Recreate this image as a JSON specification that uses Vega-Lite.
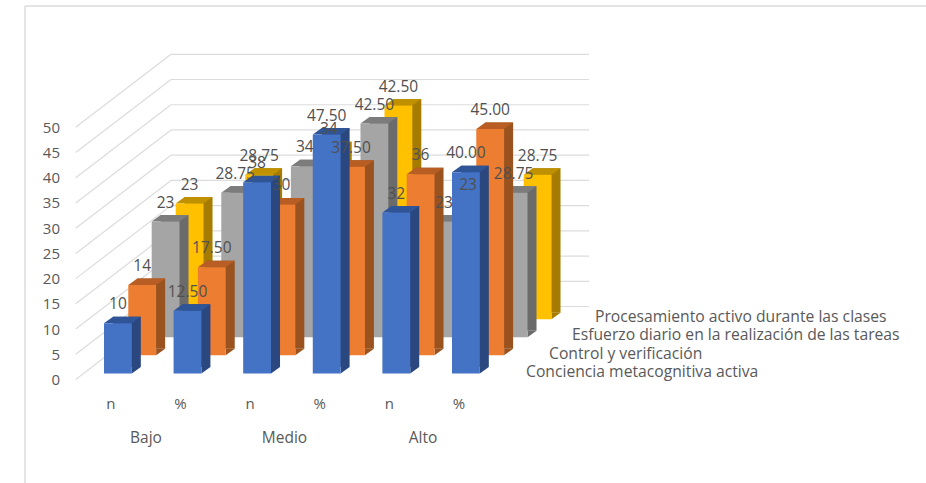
{"$schema":"https://vega.github.io/schema/vega-lite/v6.json","width":926,"height":483,"padding":0,"autosize":{"type":"none"},"background":"white","config":{"view":{"stroke":null},"font":"Open Sans","text":{"font":"Open Sans"}},
"datasets":{
"bars":[
{"serie":"Conciencia metacognitiva activa","cat":"Bajo n","value":10,"label":"10"},{"serie":"Conciencia metacognitiva activa","cat":"Bajo %","value":12.5,"label":"12.50"},{"serie":"Conciencia metacognitiva activa","cat":"Medio n","value":38,"label":"38"},{"serie":"Conciencia metacognitiva activa","cat":"Medio %","value":47.5,"label":"47.50"},{"serie":"Conciencia metacognitiva activa","cat":"Alto n","value":32,"label":"32"},{"serie":"Conciencia metacognitiva activa","cat":"Alto %","value":40,"label":"40.00"},
{"serie":"Control y verificación","cat":"Bajo n","value":14,"label":"14"},{"serie":"Control y verificación","cat":"Bajo %","value":17.5,"label":"17.50"},{"serie":"Control y verificación","cat":"Medio n","value":30,"label":"30"},{"serie":"Control y verificación","cat":"Medio %","value":37.5,"label":"37.50"},{"serie":"Control y verificación","cat":"Alto n","value":36,"label":"36"},{"serie":"Control y verificación","cat":"Alto %","value":45,"label":"45.00"},
{"serie":"Esfuerzo diario en la realización de las tareas","cat":"Bajo n","value":23,"label":"23"},{"serie":"Esfuerzo diario en la realización de las tareas","cat":"Bajo %","value":28.75,"label":"28.75"},{"serie":"Esfuerzo diario en la realización de las tareas","cat":"Medio n","value":34,"label":"34"},{"serie":"Esfuerzo diario en la realización de las tareas","cat":"Medio %","value":42.5,"label":"42.50"},{"serie":"Esfuerzo diario en la realización de las tareas","cat":"Alto n","value":23,"label":"23"},{"serie":"Esfuerzo diario en la realización de las tareas","cat":"Alto %","value":28.75,"label":"28.75"},
{"serie":"Procesamiento activo durante las clases","cat":"Bajo n","value":23,"label":"23"},{"serie":"Procesamiento activo durante las clases","cat":"Bajo %","value":28.75,"label":"28.75"},{"serie":"Procesamiento activo durante las clases","cat":"Medio n","value":34,"label":"34"},{"serie":"Procesamiento activo durante las clases","cat":"Medio %","value":42.5,"label":"42.50"},{"serie":"Procesamiento activo durante las clases","cat":"Alto n","value":23,"label":"23"},{"serie":"Procesamiento activo durante las clases","cat":"Alto %","value":28.75,"label":"28.75"}
],
"levels":[{"level":0},{"level":5},{"level":10},{"level":15},{"level":20},{"level":25},{"level":30},{"level":35},{"level":40},{"level":45},{"level":50}],
"series":[{"serie":"Conciencia metacognitiva activa"},{"serie":"Control y verificación"},{"serie":"Esfuerzo diario en la realización de las tareas"},{"serie":"Procesamiento activo durante las clases"}],
"groups":[{"group":"Bajo"},{"group":"Medio"},{"group":"Alto"}],
"one":[{"frame":1}]
},
"resolve":{"scale":{"x":"independent","y":"independent"},"axis":{"x":"independent","y":"independent"}},
"layer":[
{"data":{"name":"one"},"mark":{"type":"rule","color":"#E4E4E4","strokeWidth":2},"encoding":{"x":{"datum":0,"scale":{"domain":[0,1],"range":[25,926]},"axis":null},"x2":{"datum":1},"y":{"datum":0,"scale":{"domain":[0,1],"range":[6,483]},"axis":null}}},
{"data":{"name":"one"},"mark":{"type":"rule","color":"#E4E4E4","strokeWidth":2},"encoding":{"x":{"datum":0,"scale":{"domain":[0,1],"range":[25,926]},"axis":null},"y":{"datum":0,"scale":{"domain":[0,1],"range":[6,483]},"axis":null},"y2":{"datum":1}}},
{"data":{"name":"levels"},"mark":{"type":"rule","color":"#DCDCDC","strokeWidth":1.2,"y2Offset":-73},"encoding":{"x":{"datum":0,"scale":{"domain":[0,1],"range":[75.7,171]},"axis":null},"x2":{"datum":1},"y":{"field":"level","type":"quantitative","scale":{"domain":[0,50],"range":[379.5,127.3]},"axis":{"orient":"left","offset":-59.5,"values":[0,5,10,15,20,25,30,35,40,45,50],"domain":false,"ticks":false,"grid":false,"title":null,"labelPadding":0,"labelFont":"Open Sans","labelFontSize":15,"labelColor":"#595959"}},"y2":{"field":"level"}}},
{"data":{"name":"levels"},"mark":{"type":"rule","color":"#DCDCDC","strokeWidth":1.2,"yOffset":-73,"y2Offset":-73},"encoding":{"x":{"datum":0,"scale":{"domain":[0,1],"range":[171,589]},"axis":null},"x2":{"datum":1},"y":{"field":"level","type":"quantitative","scale":{"domain":[0,50],"range":[379.5,127.3]},"axis":null},"y2":{"field":"level"}}},

{"data":{"name":"bars"},"transform":[{"filter":"datum.serie==='Procesamiento activo durante las clases'"}],
"encoding":{"x":{"field":"cat","type":"nominal","sort":null,"scale":{"type":"band","domain":["Bajo n","Bajo %","Medio n","Medio %","Alto n","Alto %"],"range":[154.8,572.4],"paddingInner":0.6,"paddingOuter":0.3},"axis":null},"y":{"field":"value","type":"quantitative","scale":{"domain":[0,50],"range":[319.3,67.8]},"axis":null}},
"layer":[
{"mark":{"type":"bar","color":"#A67C00","xOffset":9,"yOffset":-6.5,"y2Offset":-6.5}},
{"mark":{"type":"point","filled":true,"opacity":1,"size":4,"color":"#A67C00","shape":"M13.92,0L22.92,-6.5L13.92,-6.5Z"},"encoding":{"y":{"datum":0}}},
{"mark":{"type":"point","filled":true,"opacity":1,"size":4,"color":"#BF9000","shape":"M-13.92,0L13.92,0L22.92,-6.5L-4.92,-6.5Z"}},
{"mark":{"type":"bar","color":"#FFC000"}}
]},
{"data":{"name":"bars"},"transform":[{"filter":"datum.serie==='Esfuerzo diario en la realización de las tareas'"}],
"encoding":{"x":{"field":"cat","type":"nominal","sort":null,"scale":{"type":"band","domain":["Bajo n","Bajo %","Medio n","Medio %","Alto n","Alto %"],"range":[130.8,548.4],"paddingInner":0.6,"paddingOuter":0.3},"axis":null},"y":{"field":"value","type":"quantitative","scale":{"domain":[0,50],"range":[337.3,85.8]},"axis":null}},
"layer":[
{"mark":{"type":"bar","color":"#6B6B6B","xOffset":9,"yOffset":-6.5,"y2Offset":-6.5}},
{"mark":{"type":"point","filled":true,"opacity":1,"size":4,"color":"#6B6B6B","shape":"M13.92,0L22.92,-6.5L13.92,-6.5Z"},"encoding":{"y":{"datum":0}}},
{"mark":{"type":"point","filled":true,"opacity":1,"size":4,"color":"#7C7C7C","shape":"M-13.92,0L13.92,0L22.92,-6.5L-4.92,-6.5Z"}},
{"mark":{"type":"bar","color":"#A5A5A5"}}
]},
{"data":{"name":"bars"},"transform":[{"filter":"datum.serie==='Control y verificación'"}],
"encoding":{"x":{"field":"cat","type":"nominal","sort":null,"scale":{"type":"band","domain":["Bajo n","Bajo %","Medio n","Medio %","Alto n","Alto %"],"range":[107.4,525],"paddingInner":0.6,"paddingOuter":0.3},"axis":null},"y":{"field":"value","type":"quantitative","scale":{"domain":[0,50],"range":[355.3,103.8]},"axis":null}},
"layer":[
{"mark":{"type":"bar","color":"#9A521F","xOffset":9,"yOffset":-6.5,"y2Offset":-6.5}},
{"mark":{"type":"point","filled":true,"opacity":1,"size":4,"color":"#9A521F","shape":"M13.92,0L22.92,-6.5L13.92,-6.5Z"},"encoding":{"y":{"datum":0}}},
{"mark":{"type":"point","filled":true,"opacity":1,"size":4,"color":"#B85E24","shape":"M-13.92,0L13.92,0L22.92,-6.5L-4.92,-6.5Z"}},
{"mark":{"type":"bar","color":"#ED7D31"}}
]},
{"data":{"name":"bars"},"transform":[{"filter":"datum.serie==='Conciencia metacognitiva activa'"}],
"encoding":{"x":{"field":"cat","type":"nominal","sort":null,"scale":{"type":"band","domain":["Bajo n","Bajo %","Medio n","Medio %","Alto n","Alto %"],"range":[83.1,500.7],"paddingInner":0.6,"paddingOuter":0.3},"axis":{"orient":"bottom","offset":-87,"domain":false,"ticks":false,"grid":false,"title":null,"labelAngle":0,"labelPadding":0,"labelOffset":-7,"labelFont":"Open Sans","labelFontSize":15,"labelColor":"#595959","labelExpr":"split(datum.label,' ')[1]"}},"y":{"field":"value","type":"quantitative","scale":{"domain":[0,50],"range":[373.5,122]},"axis":null}},
"layer":[
{"mark":{"type":"bar","color":"#2A4780","xOffset":9,"yOffset":-6.5,"y2Offset":-6.5}},
{"mark":{"type":"point","filled":true,"opacity":1,"size":4,"color":"#2A4780","shape":"M13.92,0L22.92,-6.5L13.92,-6.5Z"},"encoding":{"y":{"datum":0}}},
{"mark":{"type":"point","filled":true,"opacity":1,"size":4,"color":"#2F5597","shape":"M-13.92,0L13.92,0L22.92,-6.5L-4.92,-6.5Z"}},
{"mark":{"type":"bar","color":"#4472C4"}}
]},

{"data":{"name":"bars"},"transform":[{"filter":"datum.serie==='Procesamiento activo durante las clases'"}],"mark":{"type":"text","font":"Open Sans","fontSize":15.5,"color":"#505050","yOffset":-19},"encoding":{"text":{"field":"label"},"x":{"field":"cat","type":"nominal","sort":null,"scale":{"type":"band","domain":["Bajo n","Bajo %","Medio n","Medio %","Alto n","Alto %"],"range":[154.8,572.4],"paddingInner":0.6,"paddingOuter":0.3},"axis":null},"y":{"field":"value","type":"quantitative","scale":{"domain":[0,50],"range":[319.3,67.8]},"axis":null}}},
{"data":{"name":"bars"},"transform":[{"filter":"datum.serie==='Esfuerzo diario en la realización de las tareas'"}],"mark":{"type":"text","font":"Open Sans","fontSize":15.5,"color":"#505050","yOffset":-19},"encoding":{"text":{"field":"label"},"x":{"field":"cat","type":"nominal","sort":null,"scale":{"type":"band","domain":["Bajo n","Bajo %","Medio n","Medio %","Alto n","Alto %"],"range":[130.8,548.4],"paddingInner":0.6,"paddingOuter":0.3},"axis":null},"y":{"field":"value","type":"quantitative","scale":{"domain":[0,50],"range":[337.3,85.8]},"axis":null}}},
{"data":{"name":"bars"},"transform":[{"filter":"datum.serie==='Control y verificación'"}],"mark":{"type":"text","font":"Open Sans","fontSize":15.5,"color":"#505050","yOffset":-19},"encoding":{"text":{"field":"label"},"x":{"field":"cat","type":"nominal","sort":null,"scale":{"type":"band","domain":["Bajo n","Bajo %","Medio n","Medio %","Alto n","Alto %"],"range":[107.4,525],"paddingInner":0.6,"paddingOuter":0.3},"axis":null},"y":{"field":"value","type":"quantitative","scale":{"domain":[0,50],"range":[355.3,103.8]},"axis":null}}},
{"data":{"name":"bars"},"transform":[{"filter":"datum.serie==='Conciencia metacognitiva activa'"}],"mark":{"type":"text","font":"Open Sans","fontSize":15.5,"color":"#505050","yOffset":-19},"encoding":{"text":{"field":"label"},"x":{"field":"cat","type":"nominal","sort":null,"scale":{"type":"band","domain":["Bajo n","Bajo %","Medio n","Medio %","Alto n","Alto %"],"range":[83.1,500.7],"paddingInner":0.6,"paddingOuter":0.3},"axis":null},"y":{"field":"value","type":"quantitative","scale":{"domain":[0,50],"range":[373.5,122]},"axis":null}}},

{"data":{"name":"groups"},"mark":{"type":"text","font":"Open Sans","fontSize":15.5,"color":"#595959"},"encoding":{"text":{"field":"group"},"x":{"field":"group","type":"nominal","sort":null,"scale":{"type":"point","padding":0,"domain":["Bajo","Medio","Alto"],"range":[146,423]},"axis":null},"y":{"datum":0,"scale":{"domain":[0,1],"range":[438,0]},"axis":null}}},
{"data":{"name":"series"},"mark":{"type":"text","font":"Open Sans","fontSize":15.7,"color":"#595959","align":"left"},"encoding":{"text":{"field":"serie"},"x":{"field":"serie","type":"nominal","sort":null,"scale":{"type":"point","padding":0,"domain":["Conciencia metacognitiva activa","Control y verificación","Esfuerzo diario en la realización de las tareas","Procesamiento activo durante las clases"],"range":[526,595]},"axis":null},"y":{"field":"serie","type":"nominal","sort":null,"scale":{"type":"point","padding":0,"domain":["Conciencia metacognitiva activa","Control y verificación","Esfuerzo diario en la realización de las tareas","Procesamiento activo durante las clases"],"range":[372,316.7]},"axis":null}}}
]}
